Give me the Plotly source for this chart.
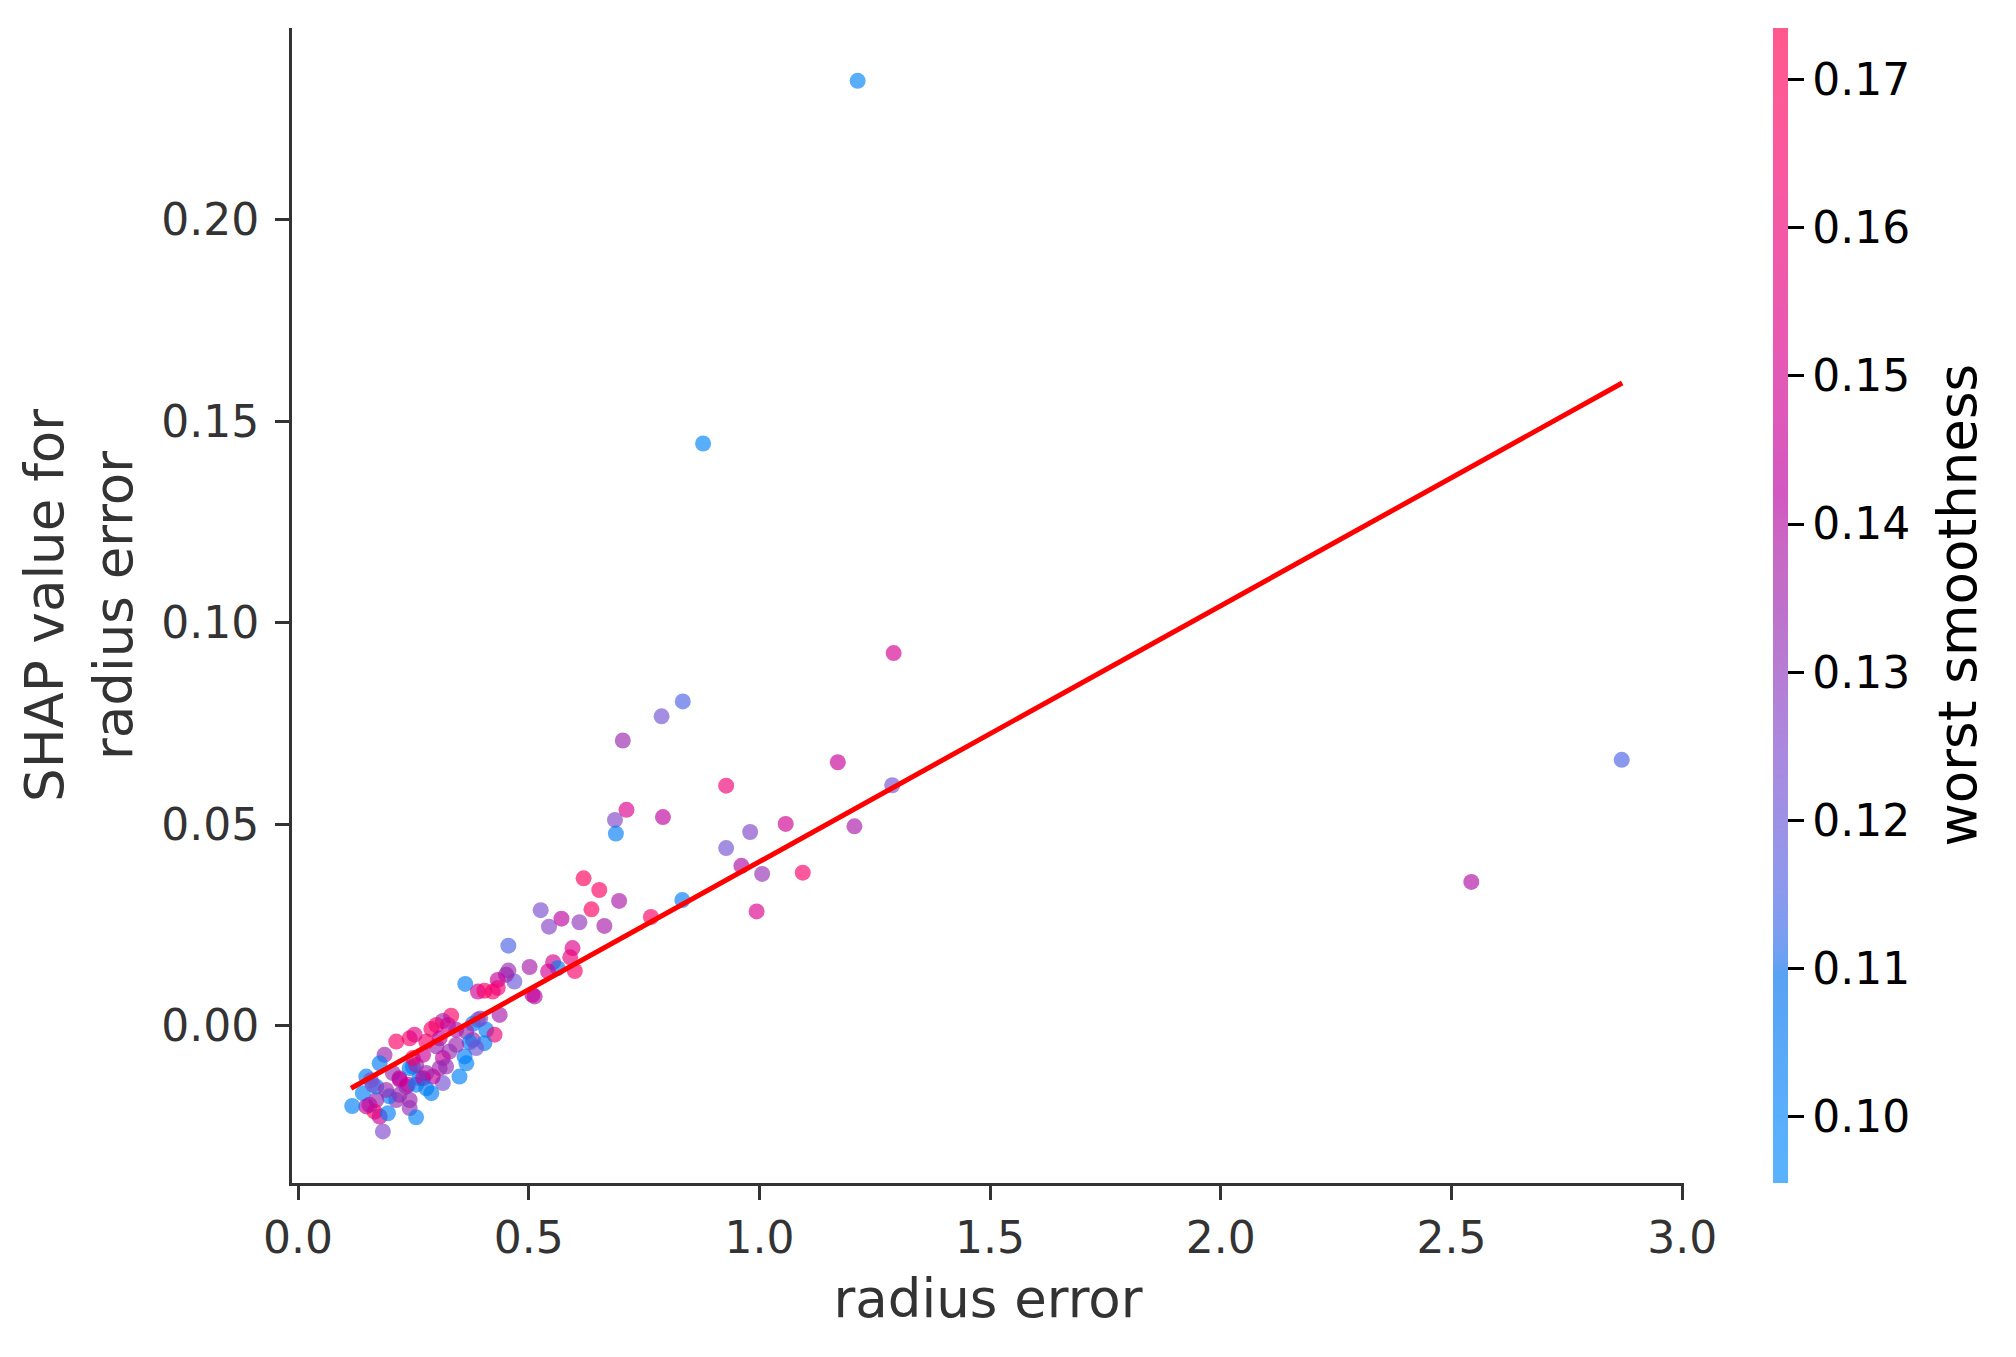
import numpy as np
import plotly.graph_objects as go

# ---------------- data ----------------
radius_error = [
    1.213, 0.878, 1.291, 2.869, 2.543, 0.834, 0.788, 0.704, 1.170, 0.928,
    1.288, 0.712, 0.687, 0.791, 0.689, 1.057, 1.206, 0.980, 0.928, 0.961,
    1.006, 1.094, 0.994, 0.619, 0.653, 0.696, 0.636, 0.833, 0.765, 0.526,
    0.571, 0.610, 0.544, 0.664, 0.456, 0.595, 0.590, 0.553, 0.600, 0.563,
    0.502, 0.456, 0.542, 0.469, 0.451, 0.433, 0.3625, 0.390, 0.404, 0.422,
    0.433, 0.513, 0.508, 0.332, 0.314, 0.300, 0.325, 0.289, 0.390, 0.379,
    0.437, 0.408, 0.426, 0.365, 0.343, 0.395, 0.379, 0.372, 0.404, 0.386,
    0.361, 0.365, 0.350, 0.343, 0.328, 0.314, 0.307, 0.314, 0.292, 0.289,
    0.307, 0.300, 0.278, 0.321, 0.278, 0.263, 0.249, 0.2346, 0.2205, 0.2055,
    0.242, 0.242, 0.213, 0.198, 0.1696, 0.148, 0.166, 0.177, 0.195, 0.1405,
    0.1696, 0.1175, 0.184, 0.256, 0.213, 0.242, 0.2526, 0.1876, 0.177, 0.148,
    0.158, 0.162, 0.191, 0.220, 0.238, 0.256, 0.242, 0.256, 0.271, 0.278,
    0.249, 0.271, 0.155, 0.220,
]
shap_value = [
    0.2345, 0.1445, 0.0925, 0.0660, 0.0357, 0.0805, 0.0768, 0.0708, 0.0654, 0.0596,
    0.0597, 0.0536, 0.0511, 0.0518, 0.0477, 0.0501, 0.0495, 0.0481, 0.0441, 0.0397,
    0.0377, 0.0380, 0.0284, 0.0366, 0.0337, 0.0310, 0.0289, 0.0312, 0.0270, 0.0287,
    0.0266, 0.0257, 0.0246, 0.0248, 0.0199, 0.0193, 0.0170, 0.0158, 0.0136, 0.0143,
    0.0146, 0.0137, 0.0135, 0.0110, 0.0127, 0.0114, 0.0104, 0.0085, 0.0087, 0.0085,
    0.0094, 0.0073, 0.0077, 0.0025, 0.0012, 0.0002, 0.0002, -0.0008, 0.0015, 0.0005,
    0.0027, -0.0010, -0.0022, -0.0014, -0.0010, 0.0018, -0.0035, -0.0041, -0.0043, -0.0055,
    -0.0076, -0.0093, -0.0126, -0.0047, -0.0064, -0.0080, -0.0105, -0.0142, -0.0126, -0.0167,
    -0.0031, -0.0051, -0.0039, -0.0101, -0.0117, -0.0130, -0.0101, -0.0151, -0.0134, -0.0117,
    -0.0184, -0.0204, -0.0184, -0.0175, -0.0184, -0.0200, -0.0213, -0.0225, -0.0217, -0.0167,
    -0.0151, -0.0199, -0.0262, -0.0227, -0.0039, -0.0031, -0.0022, -0.0072, -0.0093, -0.0126,
    -0.0135, -0.0146, -0.0159, -0.0130, -0.0146, -0.0146, -0.0105, -0.0097, -0.0130, -0.0155,
    -0.0080, -0.0072, -0.0196, -0.0171,
]
worst_smoothness = [
    0.100, 0.100, 0.150, 0.115, 0.140, 0.115, 0.122, 0.134, 0.145, 0.160,
    0.122, 0.152, 0.126, 0.143, 0.103, 0.148, 0.138, 0.126, 0.122, 0.140,
    0.132, 0.165, 0.152, 0.170, 0.168, 0.138, 0.168, 0.104, 0.166, 0.124,
    0.143, 0.130, 0.127, 0.137, 0.115, 0.152, 0.158, 0.150, 0.165, 0.103,
    0.137, 0.133, 0.150, 0.120, 0.135, 0.145, 0.103, 0.148, 0.165, 0.166,
    0.160, 0.140, 0.145, 0.166, 0.135, 0.165, 0.150, 0.165, 0.124, 0.104,
    0.137, 0.105, 0.160, 0.135, 0.137, 0.124, 0.135, 0.103, 0.105, 0.122,
    0.103, 0.101, 0.102, 0.135, 0.132, 0.145, 0.135, 0.122, 0.145, 0.103,
    0.143, 0.135, 0.165, 0.133, 0.135, 0.103, 0.103, 0.135, 0.145, 0.133,
    0.135, 0.132, 0.133, 0.104, 0.135, 0.145, 0.168, 0.148, 0.103, 0.102,
    0.104, 0.102, 0.125, 0.101, 0.166, 0.166, 0.155, 0.135, 0.103, 0.103,
    0.123, 0.122, 0.135, 0.143, 0.145, 0.103, 0.103, 0.135, 0.145, 0.103,
    0.166, 0.145, 0.140, 0.133,
]
fit_x = [0.115, 2.870]
fit_y = [-0.0155, 0.1595]

x_ticks = [0.0, 0.5, 1.0, 1.5, 2.0, 2.5, 3.0]
y_ticks = [0.00, 0.05, 0.10, 0.15, 0.20]
cbar_ticks = [0.10, 0.11, 0.12, 0.13, 0.14, 0.15, 0.16, 0.17]
c_min, c_max = 0.0955, 0.1735

x_label = "radius error"
y_label = "SHAP value for<br>radius error"
c_label = "worst smoothness"


# ---------------- SHAP-style red_blue colour map (LCh interpolation) ----------------
def lch2rgb(l, c, h):
    a, b = c * np.cos(h), c * np.sin(h)
    fy = (l + 16.0) / 116.0
    fx = a / 500.0 + fy
    fz = fy - b / 200.0
    out = []
    for t in (fx, fy, fz):
        out.append(t ** 3 if t > 0.2068966 else (t - 16.0 / 116.0) / 7.787)
    xyz = np.array(out) * np.array([0.95047, 1.0, 1.08883])
    m = np.array([[3.2404542, -1.5371385, -0.4985314],
                  [-0.9692660, 1.8760108, 0.0415560],
                  [0.0556434, -0.2040259, 1.0572252]])
    rgb = m @ xyz
    rgb = np.where(rgb > 0.0031308, 1.055 * np.power(np.abs(rgb), 1 / 2.4) - 0.055, rgb * 12.92)
    return np.clip(rgb, 0, 1)


def red_blue_scale(alpha=0.65, nsteps=100):
    l_vals = list(np.linspace(54.0, 40.0, nsteps // 2)) + list(np.linspace(40.0, 54.0, nsteps // 2))
    c_vals = np.linspace(70.0, 90.0, nsteps)
    h_vals = np.linspace(4.6588, 0.35470565 + 2 * np.pi, nsteps)
    scale = []
    for pos, l, c, h in zip(np.linspace(0, 1, nsteps), l_vals, c_vals, h_vals):
        r, g, b = (lch2rgb(l, c, h) * 255).round().astype(int)
        scale.append([float(pos), f"rgba({r},{g},{b},{alpha})"])
    return scale


FONT = "DejaVu Sans"
AXC = "#333333"

fig = go.Figure()
fig.add_trace(go.Scatter(
    x=radius_error, y=shap_value, mode="markers",
    marker=dict(
        size=16, color=worst_smoothness, colorscale=red_blue_scale(),
        cmin=c_min, cmax=c_max, line=dict(width=0),
        showscale=True,
        colorbar=dict(
            x=1.0639, xanchor="left", xpad=0, y=0.5, yanchor="middle", ypad=0,
            len=1.0, lenmode="fraction", thickness=15, outlinewidth=0,
            tickvals=cbar_ticks, tickformat=".2f", ticks="outside", ticklen=16,
            tickwidth=3, tickcolor="#000000",
            tickfont=dict(family=FONT, size=44, color="#000000"),
        ),
    ),
    showlegend=False, hoverinfo="skip",
))
fig.add_trace(go.Scatter(
    x=fit_x, y=fit_y, mode="lines", line=dict(color="#ff0000", width=5),
    showlegend=False, hoverinfo="skip",
))

axis_common = dict(
    showline=True, linecolor=AXC, linewidth=3, mirror=False,
    ticks="outside", ticklen=14, tickwidth=3, tickcolor=AXC,
    tickfont=dict(family=FONT, size=44, color=AXC),
    showgrid=False, zeroline=False,
)
fig.update_layout(
    width=2016, height=1357,
    margin=dict(l=292, r=332, t=28, b=174, autoexpand=False),
    paper_bgcolor="white", plot_bgcolor="white",
    xaxis=dict(range=[-0.013, 3.004], tickvals=x_ticks, tickformat=".1f",
               title=dict(text=x_label, font=dict(family=FONT, size=53, color=AXC), standoff=19),
               **axis_common),
    yaxis=dict(range=[-0.039, 0.2476], tickvals=y_ticks, tickformat=".2f",
               ticklabelstandoff=7,
               title=dict(text=y_label, font=dict(family=FONT, size=53, color=AXC), standoff=12),
               **axis_common),
    annotations=[dict(
        text=c_label, textangle=-90, showarrow=False,
        xref="paper", yref="paper", x=(1957 - 292) / 1392, y=0.5,
        xanchor="center", yanchor="middle",
        font=dict(family=FONT, size=53, color="#000000"),
    )],
)

fig.write_html("out.html")
